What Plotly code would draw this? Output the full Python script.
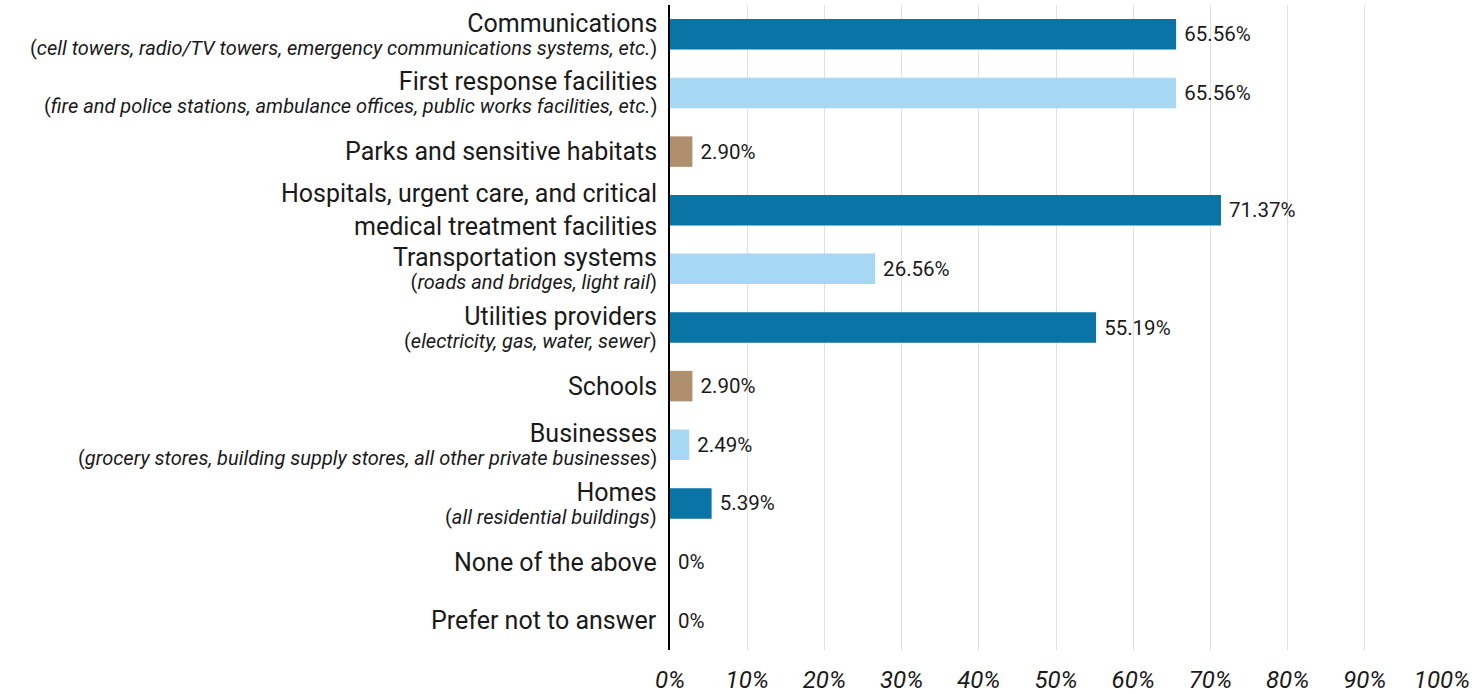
import plotly.graph_objects as go

categories = [
    "Communications",
    "First response facilities",
    "Parks and sensitive habitats",
    "Hospitals, urgent care, and critical<br>medical treatment facilities",
    "Transportation systems",
    "Utilities providers",
    "Schools",
    "Businesses",
    "Homes",
    "None of the above",
    "Prefer not to answer",
]
subtitles = [
    "cell towers, radio/TV towers, emergency communications systems, etc.",
    "fire and police stations, ambulance offices, public works facilities, etc.",
    "",
    "",
    "roads and bridges, light rail",
    "electricity, gas, water, sewer",
    "",
    "grocery stores, building supply stores, all other private businesses",
    "all residential buildings",
    "",
    "",
]
values = [65.56, 65.56, 2.90, 71.37, 26.56, 55.19, 2.90, 2.49, 5.39, 0, 0]
color_groups = ["dark", "light", "tan", "dark", "light", "dark", "tan", "light", "dark", "dark", "dark"]
x_ticks = [0, 10, 20, 30, 40, 50, 60, 70, 80, 90, 100]

palette = {"dark": "#0a74a6", "light": "#a6d7f3", "tan": "#b08f6d"}
TXT = "#1a1a1a"
MAIN = 25
SUB = 20

bar_text = [f"{v:.2f}%" if v else "0%" for v in values]
rows = list(range(len(categories)))

fig = go.Figure(
    go.Bar(
        x=values,
        y=rows,
        orientation="h",
        marker=dict(color=[palette[g] for g in color_groups], line=dict(width=0)),
        text=bar_text,
        texttemplate="\u00a0%{text}",
        textposition="outside",
        textfont=dict(size=20.5, color=TXT, family="Roboto"),
        cliponaxis=False,
        width=0.52,
        hoverinfo="skip",
    )
)

annotations = []
for i, (c, s) in enumerate(zip(categories, subtitles)):
    if s:
        text = (f"<span style='font-size:{MAIN}px'>{c}</span><br>"
                f"<span style='font-size:{SUB}px'>(<i>{s}</i>)</span>")
        base = 18
    else:
        text = c
        base = MAIN
    annotations.append(dict(
        x=0, xref="x", y=i, yref="y",
        text=text, showarrow=False,
        xanchor="right", yanchor="middle", align="right",
        xshift=-11,
        font=dict(size=base, family="Roboto", color=TXT),
    ))

fig.update_layout(
    width=1482,
    height=694,
    margin=dict(l=670, r=40, t=5, b=44),
    paper_bgcolor="white",
    plot_bgcolor="white",
    font=dict(family="Roboto", color=TXT),
    showlegend=False,
    annotations=annotations,
)
fig.update_yaxes(
    range=[len(categories) - 0.5, -0.5],
    showticklabels=False,
    showgrid=False,
    showline=True,
    linecolor="black",
    linewidth=2,
    ticks="",
    zeroline=False,
    automargin=False,
)
fig.update_xaxes(
    range=[0, 100],
    tickmode="array",
    tickvals=x_ticks,
    ticktext=[f"<i>{t}%</i>" for t in x_ticks],
    tickfont=dict(size=24, family="Roboto", color=TXT),
    showgrid=True,
    gridcolor="#e0e0e0",
    gridwidth=1,
    zeroline=False,
    showline=False,
    ticks="",
    ticklabelstandoff=13,
    automargin=False,
)

fig.write_html(
    "out.html",
    config={"displayModeBar": False},
    post_script="document.body.style.margin='0';document.body.style.overflow='hidden';",
)
